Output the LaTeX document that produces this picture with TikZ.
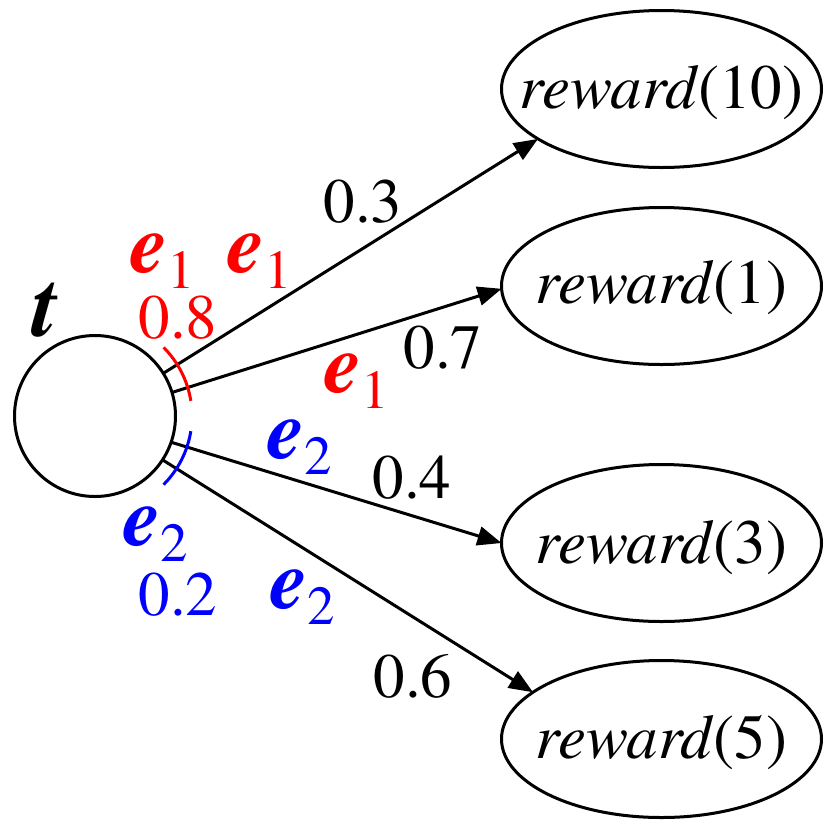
\documentclass[tikz,border=0pt]{standalone}
\usepackage{fontspec}
\setmainfont{texgyretermes}[Extension=.otf,UprightFont=*-regular,ItalicFont=*-italic,BoldFont=*-bold,BoldItalicFont=*-bolditalic]
\usetikzlibrary{shapes.geometric,arrows.meta,calc}
\newcommand\esub[1]{{\fontsize{84}{84}\selectfont\bfseries\itshape e}\raisebox{-16pt}{\fontsize{55}{55}\selectfont #1}}
\begin{document}
\begin{tikzpicture}[x=1pt,y=-1pt,line width=3pt,
  rnode/.style={draw,ellipse,minimum width=320pt,minimum height=157pt,inner sep=0pt,outer sep=0pt},
  tnode/.style={draw,circle,minimum size=161pt,inner sep=0pt,outer sep=0pt},
  rtext/.style={inner sep=0pt,anchor=base,font=\fontsize{63}{70}\selectfont},
  lab/.style={inner sep=0pt,anchor=base west,font=\fontsize{63}{70}\selectfont},
  edgearrow/.style={-{Triangle[length=24pt,width=19pt]}},
  redlab/.style={lab,text=red},
  bluelab/.style={lab,text=blue}]
\useasboundingbox (0,0) rectangle (825,823);
% nodes
\node[tnode] (t) at (95,416) {};
\node[inner sep=0pt,anchor=base west,font=\fontsize{90}{90}\selectfont\bfseries\itshape] (tl) at (31,336) {t};
\node[rnode] (r10) at (661.5,89) {};
\node[rnode] (r1) at (661.5,286) {};
\node[rnode] (r3) at (661.5,543) {};
\node[rnode] (r5) at (661.5,739) {};
\node[rtext] (r10t) at (661.5,108) {\textit{reward}(10)};
\node[rtext] (r1t) at (661.5,303) {\textit{reward}(1)};
\node[rtext] (r3t) at (661.5,563) {\textit{reward}(3)};
\node[rtext] (r5t) at (661.5,758) {\textit{reward}(5)};
% edges
\draw[edgearrow] (t.32) -- (r10.202);
\draw[edgearrow] (t.17) -- (r1.181);
\draw[edgearrow] (t.-19) -- (r3.180);
\draw[edgearrow] (t.-33) -- (r5.160);
% arcs
\draw[red] ($(t.center)+(-45:97)$) arc[start angle=-45,end angle=-9,radius=97];
\draw[blue] ($(t.center)+(9:97)$) arc[start angle=9,end angle=45,radius=97];
% labels
\node[redlab] (e1a) at (129,272) {\esub{1}};
\node[redlab] (e1b) at (226,272) {\esub{1}};
\node[redlab] (e1c) at (323,392) {\esub{1}};
\node[redlab] (p08) at (137,338) {0.8};
\node[bluelab] (e2a) at (266,458) {\esub{2}};
\node[bluelab] (e2b) at (269,608) {\esub{2}};
\node[bluelab] (e2c) at (122,545) {\esub{2}};
\node[bluelab] (p02) at (137,615) {0.2};
\node[lab] (p03) at (322,222) {0.3};
\node[lab] (p07) at (402,368) {0.7};
\node[lab] (p04) at (371,498) {0.4};
\node[lab] (p06) at (372,697) {0.6};
\end{tikzpicture}
\end{document}
